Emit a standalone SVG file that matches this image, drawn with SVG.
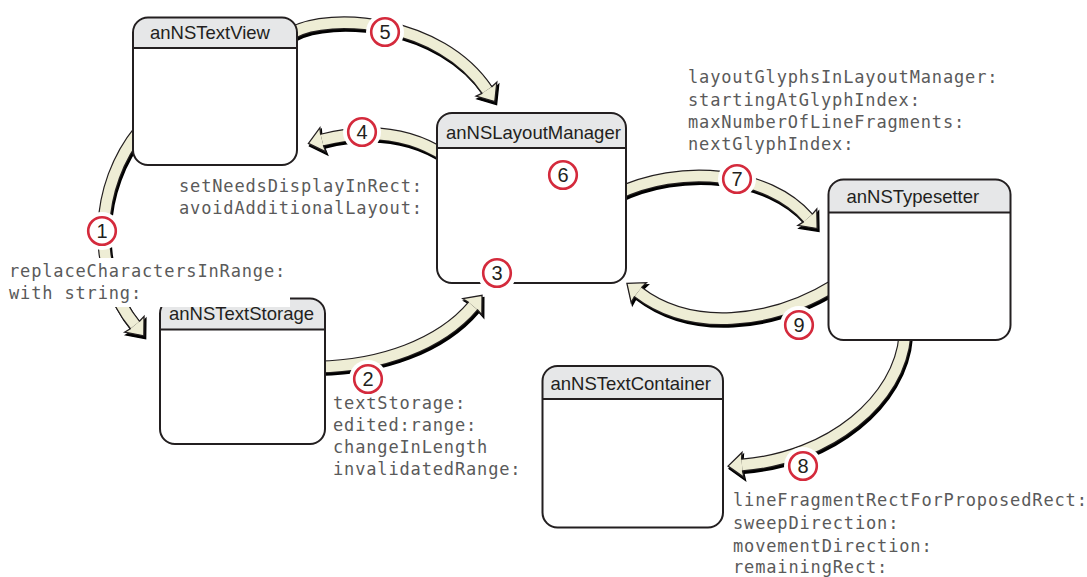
<svg xmlns="http://www.w3.org/2000/svg" width="1087" height="577" viewBox="0 0 1087 577">
<style>
.body{fill:#fff;stroke:none}
.hdr{fill:#e6e7e8;stroke:none}
.sep{stroke:#231f20;stroke-width:2}
.frame{fill:none;stroke:#231f20;stroke-width:2}
.title{font-family:"Liberation Sans",Arial,sans-serif;font-size:18.5px;fill:#231f20}
.lbl{font-family:"DejaVu Sans Mono",monospace;font-size:17px;letter-spacing:0.85px;fill:#5a5a5a}
.shadow path{fill:none;stroke:#000;stroke-width:13;marker-end:url(#headS)}
.outline path{fill:none;stroke:#231f20;stroke-width:13}
.cream path{fill:none;stroke:#eeedd5;stroke-width:10.6;marker-end:url(#head)}
.halo{fill:#fff}
.ring{fill:#fff;stroke:#d42a3c;stroke-width:2.6}
.num{font-family:"Liberation Sans",Arial,sans-serif;font-size:20px;fill:#231f20;text-anchor:middle}
</style>
<defs>
<marker id="head" markerUnits="userSpaceOnUse" orient="auto" refX="0" refY="0" markerWidth="40" markerHeight="40" viewBox="-20 -20 40 40" overflow="visible">
<path d="M0 -5.5 L-1 -12.5 L14 0 L-1 12.5 L0 5.5" fill="#eeedd5" stroke="#231f20" stroke-width="1.3"/>
</marker>
<marker id="headS" markerUnits="userSpaceOnUse" orient="auto" refX="0" refY="0" markerWidth="40" markerHeight="40" viewBox="-20 -20 40 40" overflow="visible">
<path d="M0 -6.5 L-1 -13 L14.5 0 L-1 13 L0 6.5 Z" fill="#000" stroke="#000" stroke-width="1.3"/>
</marker>
</defs>

<g id="connectors">
<g class="shadow" transform="translate(1.5,2.5)">
<path d="M292 33 C330 12,440 20,487 90"/>
<path d="M445 156 C410 133,370 128,322 140"/>
<path d="M140 130 C95 185,90 270,135 325"/>
<path d="M318 367 C380 366,440 345,473 306"/>
<path d="M615 195 C680 163,768 172,808 218"/>
<path d="M835 285 C770 325,690 332,638 292"/>
<path d="M905 335 C900 400,830 458,742 465"/>
</g>
<g class="outline">
<path d="M292 33 C330 12,440 20,487 90"/>
<path d="M445 156 C410 133,370 128,322 140"/>
<path d="M140 130 C95 185,90 270,135 325"/>
<path d="M318 367 C380 366,440 345,473 306"/>
<path d="M615 195 C680 163,768 172,808 218"/>
<path d="M835 285 C770 325,690 332,638 292"/>
<path d="M905 335 C900 400,830 458,742 465"/>
</g>
<g class="cream">
<path d="M292 33 C330 12,440 20,487 90"/>
<path d="M445 156 C410 133,370 128,322 140"/>
<path d="M140 130 C95 185,90 270,135 325"/>
<path d="M318 367 C380 366,440 345,473 306"/>
<path d="M615 195 C680 163,768 172,808 218"/>
<path d="M835 285 C770 325,690 332,638 292"/>
<path d="M905 335 C900 400,830 458,742 465"/>
</g>
</g>

<g id="anNSTextView">
<rect class="body" x="133" y="17.5" width="164" height="147.5" rx="15"/>
<path class="hdr" d="M133 48 V32.5 A15 15 0 0 1 148 17.5 H282 A15 15 0 0 1 297 32.5 V48 Z"/>
<line class="sep" x1="133" y1="48" x2="297" y2="48"/>
<rect class="frame" x="133" y="17.5" width="164" height="147.5" rx="15"/>
<text class="title" x="150" y="39">anNSTextView</text>
</g>

<g id="anNSLayoutManager">
<rect class="body" x="437" y="113" width="189" height="170" rx="15"/>
<path class="hdr" d="M437 148 V128 A15 15 0 0 1 452 113 H611 A15 15 0 0 1 626 128 V148 Z"/>
<line class="sep" x1="437" y1="148" x2="626" y2="148"/>
<rect class="frame" x="437" y="113" width="189" height="170" rx="15"/>
<text class="title" x="446" y="139">anNSLayoutManager</text>
</g>

<g id="anNSTypesetter">
<rect class="body" x="828.5" y="179.5" width="182" height="160.5" rx="15"/>
<path class="hdr" d="M828.5 212.5 V194.5 A15 15 0 0 1 843.5 179.5 H995.5 A15 15 0 0 1 1010.5 194.5 V212.5 Z"/>
<line class="sep" x1="828.5" y1="212.5" x2="1010.5" y2="212.5"/>
<rect class="frame" x="828.5" y="179.5" width="182" height="160.5" rx="15"/>
<text class="title" x="846.5" y="203">anNSTypesetter</text>
</g>

<g id="anNSTextStorage">
<rect class="body" x="160" y="298.5" width="165" height="145.5" rx="15"/>
<path class="hdr" d="M160 329.5 V313.5 A15 15 0 0 1 175 298.5 H310 A15 15 0 0 1 325 313.5 V329.5 Z"/>
<line class="sep" x1="160" y1="329.5" x2="325" y2="329.5"/>
<rect class="frame" x="160" y="298.5" width="165" height="145.5" rx="15"/>
<text class="title" x="169" y="320">anNSTextStorage</text>
</g>

<g id="anNSTextContainer">
<rect class="body" x="542.5" y="366" width="180.5" height="161.5" rx="15"/>
<path class="hdr" d="M542.5 399 V381 A15 15 0 0 1 557.5 366 H708 A15 15 0 0 1 723 381 V399 Z"/>
<line class="sep" x1="542.5" y1="399" x2="723" y2="399"/>
<rect class="frame" x="542.5" y="366" width="180.5" height="161.5" rx="15"/>
<text class="title" x="550.5" y="390">anNSTextContainer</text>
</g>

<g id="labels">
<text class="lbl" x="179" y="192">setNeedsDisplayInRect:</text>
<text class="lbl" x="179" y="214">avoidAdditionalLayout:</text>
<rect x="4" y="258" width="286" height="49" fill="#fff"/>
<text class="lbl" x="9" y="277">replaceCharactersInRange:</text>
<text class="lbl" x="9" y="299">with string:</text>
<text class="lbl" x="333" y="409">textStorage:</text>
<text class="lbl" x="333" y="431">edited:range:</text>
<text class="lbl" x="333" y="453">changeInLength</text>
<text class="lbl" x="333" y="475">invalidatedRange:</text>
<text class="lbl" x="688" y="83">layoutGlyphsInLayoutManager:</text>
<text class="lbl" x="688" y="105.5">startingAtGlyphIndex:</text>
<text class="lbl" x="688" y="128">maxNumberOfLineFragments:</text>
<text class="lbl" x="688" y="150">nextGlyphIndex:</text>
<text class="lbl" x="733" y="506">lineFragmentRectForProposedRect:</text>
<text class="lbl" x="733" y="529">sweepDirection:</text>
<text class="lbl" x="733" y="552">movementDirection:</text>
<text class="lbl" x="733" y="573">remainingRect:</text>
</g>

<g id="step1"><circle class="halo" cx="102" cy="231" r="19"/><circle class="ring" cx="102" cy="231" r="13.8"/><text class="num" x="102" y="238">1</text></g>
<g id="step2"><circle class="halo" cx="368" cy="379" r="19"/><circle class="ring" cx="368" cy="379" r="13.8"/><text class="num" x="368" y="386">2</text></g>
<g id="step3"><circle class="halo" cx="497" cy="273" r="19.5"/><circle class="ring" cx="497" cy="273" r="13.8"/><text class="num" x="497" y="280">3</text></g>
<g id="step4"><circle class="halo" cx="362" cy="132" r="19"/><circle class="ring" cx="362" cy="132" r="13.8"/><text class="num" x="362" y="139">4</text></g>
<g id="step5"><circle class="halo" cx="385" cy="32" r="19"/><circle class="ring" cx="385" cy="32" r="13.8"/><text class="num" x="385" y="39">5</text></g>
<g id="step6"><circle class="halo" cx="563" cy="175" r="19"/><circle class="ring" cx="563" cy="175" r="13.8"/><text class="num" x="563" y="182">6</text></g>
<g id="step7"><circle class="halo" cx="737" cy="179" r="19"/><circle class="ring" cx="737" cy="179" r="13.8"/><text class="num" x="737" y="186">7</text></g>
<g id="step8"><circle class="halo" cx="803" cy="466" r="19"/><circle class="ring" cx="803" cy="466" r="13.8"/><text class="num" x="803" y="473">8</text></g>
<g id="step9"><circle class="halo" cx="799" cy="325" r="19"/><circle class="ring" cx="799" cy="325" r="13.8"/><text class="num" x="799" y="332">9</text></g>
</svg>
